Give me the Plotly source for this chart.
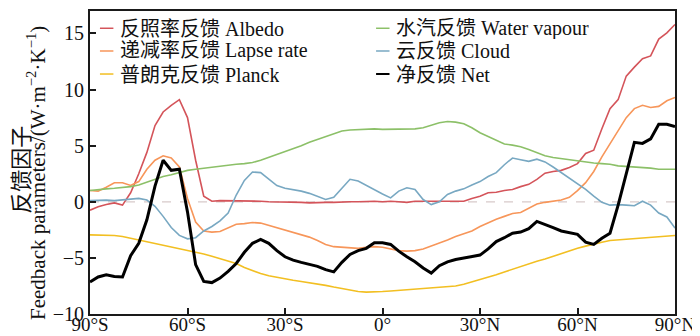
import plotly.graph_objects as go

latitudes = [-90, -87.5, -85, -82.5, -80, -77.5, -75, -72.5, -70, -67.5, -65, -62.5, -60, -57.5, -55, -52.5, -50, -47.5, -45,
             -42.5, -40, -37.5, -35, -32.5, -30, -27.5, -25, -22.5, -20, -17.5, -15, -12.5, -10, -7.5, -5, -2.5,
             0, 2.5, 5, 7.5, 10, 12.5, 15, 17.5, 20, 22.5, 25, 27.5, 30, 32.5, 35, 37.5, 40, 42.5, 45,
             47.5, 50, 52.5, 55, 57.5, 60, 62.5, 65, 67.5, 70, 72.5, 75, 77.5, 80, 82.5, 85, 87.5, 90]

albedo = [-0.75, -0.45, -0.25, -0.1, -0.3, 0.8, 2.5, 4.4, 6.8, 8.0, 8.6, 9.1, 7.5, 3.7, 0.5, 0.05, 0.1, 0.1, 0.05,
          0.05, 0.05, 0.05, 0.0, 0.0, 0.0, -0.05, -0.05, -0.1, -0.05, -0.05, -0.05, 0.0, 0.0, 0.0, 0.05, 0.05,
          0.0, 0.05, 0.0, -0.05, 0.05, 0.05, 0.0, 0.0, 0.0, 0.0, 0.05, 0.3, 0.5, 0.8, 0.85, 1.0, 1.1, 1.35, 1.55,
          2.0, 2.55, 2.7, 2.8, 3.05, 3.4, 4.3, 4.6, 6.5, 8.3, 9.1, 11.2, 12.0, 12.75, 13.0, 14.5, 15.05, 15.8]

lapse_rate = [1.0, 0.95, 1.3, 1.7, 1.7, 1.45, 1.8, 2.9, 3.7, 4.1, 3.9, 3.1, 0.3, -1.8, -2.6, -2.7, -2.65, -2.3, -2.0,
              -1.95, -1.85, -1.9, -2.1, -2.35, -2.55, -2.75, -2.95, -3.15, -3.45, -3.8, -4.0, -4.05, -4.1, -4.15, -4.05, -4.0,
              -4.05, -4.2, -4.35, -4.4, -4.35, -4.2, -3.95, -3.7, -3.4, -3.1, -2.85, -2.6, -2.2, -1.85, -1.55, -1.3, -1.05, -0.95, -0.55,
              -0.2, -0.05, 0.05, 0.15, 0.4, 1.0, 1.7, 2.7, 4.0, 5.2, 6.4, 7.5, 8.3, 8.6, 8.4, 8.5, 9.0, 9.3]

planck = [-2.95, -2.95, -2.95, -3.0, -3.1, -3.25, -3.4, -3.6, -3.75, -3.9, -4.05, -4.15, -4.3, -4.45, -4.65, -4.85, -5.05, -5.25, -5.5,
          -5.85, -6.15, -6.4, -6.6, -6.75, -6.9, -7.0, -7.1, -7.2, -7.3, -7.45, -7.6, -7.75, -7.9, -8.0, -8.05, -8.05,
          -8.0, -7.95, -7.9, -7.85, -7.8, -7.75, -7.7, -7.65, -7.6, -7.5, -7.35, -7.15, -6.95, -6.7, -6.5, -6.25, -6.0, -5.75, -5.5,
          -5.3, -5.1, -4.85, -4.6, -4.35, -4.15, -3.95, -3.75, -3.6, -3.45, -3.4, -3.35, -3.3, -3.25, -3.2, -3.15, -3.1, -3.0]

water_vapour = [1.0, 1.1, 1.15, 1.2, 1.25, 1.35, 1.5, 1.75, 2.05, 2.25, 2.4, 2.6, 2.8, 2.9, 3.0, 3.05, 3.15, 3.25, 3.35,
                3.4, 3.5, 3.7, 3.95, 4.2, 4.45, 4.75, 5.0, 5.3, 5.55, 5.85, 6.1, 6.3, 6.4, 6.45, 6.45, 6.5,
                6.45, 6.45, 6.45, 6.45, 6.5, 6.6, 6.85, 7.05, 7.15, 7.1, 6.95, 6.6, 6.15, 5.8, 5.45, 5.15, 5.05, 4.9, 4.65,
                4.35, 4.1, 3.95, 3.85, 3.75, 3.65, 3.5, 3.45, 3.4, 3.35, 3.2, 3.15, 3.15, 3.1, 3.0, 2.9, 2.9, 2.9]

cloud = [0.1, 0.15, 0.15, 0.1, 0.15, 0.2, 0.3, 0.15, -0.4, -1.3, -2.3, -3.0, -3.3, -3.2, -2.6, -2.2, -1.7, -1.0, 0.6,
         1.9, 2.65, 2.6, 2.0, 1.45, 1.2, 1.1, 0.95, 0.75, 0.5, 0.2, 0.4, 1.2, 2.0, 1.85, 1.45, 1.1,
         0.7, 0.35, 0.95, 1.25, 1.1, 0.2, -0.25, 0.0, 0.65, 0.95, 1.15, 1.5, 1.8, 2.25, 2.6, 3.3, 3.9, 3.75, 3.6,
         3.8, 3.55, 3.1, 2.6, 2.05, 1.55, 1.1, 0.5, -0.05, -0.3, -0.25, -0.3, -0.35, 0.05, -0.3, -1.0, -1.35, -2.35]

net = [-7.15, -6.7, -6.5, -6.65, -6.7, -4.8, -3.7, -1.6, 1.4, 3.7, 2.8, 2.9, -0.9, -5.6, -7.1, -7.2, -6.8, -6.2, -5.5,
       -4.5, -3.7, -3.35, -3.7, -4.35, -4.9, -5.2, -5.4, -5.55, -5.75, -6.05, -6.25, -5.4, -4.7, -4.35, -4.15, -3.65,
       -3.65, -3.8, -4.4, -4.9, -5.35, -5.9, -6.35, -5.7, -5.35, -5.15, -5.0, -4.9, -4.75, -4.2, -3.55, -3.2, -2.8, -2.7, -2.4,
       -1.75, -2.0, -2.3, -2.6, -2.75, -2.9, -3.6, -3.8, -3.25, -2.8, -0.3, 2.5, 5.3, 5.2, 5.6, 6.9, 6.9, 6.7]

x_tick_values = [-90, -60, -30, 0, 30, 60, 90]
x_tick_labels = ["90°S", "60°S", "30°S", "0°", "30°N", "60°N", "90°N"]
y_tick_values = [-10, -5, 0, 5, 10, 15]

series = [
    ("反照率反馈 Albedo", albedo, "#d4545a", 1.6),
    ("递减率反馈 Lapse rate", lapse_rate, "#f7965a", 1.6),
    ("普朗克反馈 Planck", planck, "#f2bf22", 1.6),
    ("水汽反馈 Water vapour", water_vapour, "#8cc068", 1.6),
    ("云反馈 Cloud", cloud, "#78a8c2", 1.6),
    ("净反馈 Net", net, "#000000", 3.0),
]

FONT = "Liberation Serif, Times New Roman, Noto Sans CJK SC, serif"

fig = go.Figure()
fig.add_hline(y=0, line=dict(color="#d8caca", width=1.2, dash="dash"), layer="below")
for name, vals, color, w in series:
    fig.add_trace(go.Scatter(x=latitudes, y=vals, mode="lines", name=name,
                             line=dict(color=color, width=w), showlegend=False))

# custom legend (two columns, short line keys)
legend_pos = [(0.017, 0.943), (0.017, 0.868), (0.017, 0.792),
              (0.489, 0.943), (0.489, 0.868), (0.489, 0.792)]
for (name, vals, color, w), (lx, ly) in zip(series, legend_pos):
    fig.add_shape(type="line", xref="paper", yref="paper", x0=lx, x1=lx + 0.023, y0=ly, y1=ly,
                  line=dict(color=color, width=1.5 if w < 2 else 2))
    fig.add_annotation(xref="paper", yref="paper", x=lx + 0.032, y=ly, text=name, showarrow=False,
                       xanchor="left", yanchor="middle", height=21, borderpad=0,
                       font=dict(family=FONT, size=20, color="#111111"))

# y-axis title: two rotated lines
fig.add_annotation(xref="paper", yref="paper", x=-0.1185, y=0.475, textangle=-90,
                   text="反馈因子", showarrow=False, xanchor="center", yanchor="middle",
                   font=dict(family=FONT, size=22, color="#111111"))
fig.add_annotation(xref="paper", yref="paper", x=-0.0925, y=0.465, textangle=-90,
                   text="Feedback parameters/(W·m<sup>−2</sup>·K<sup>−1</sup>)",
                   showarrow=False, xanchor="center", yanchor="middle",
                   font=dict(family=FONT, size=21, color="#111111"))

axis_common = dict(showline=True, linecolor="#1a1a1a", linewidth=2, mirror=True, showgrid=False,
                   zeroline=False, ticks="inside", ticklen=6, tickwidth=1.5, tickcolor="#1a1a1a")

fig.update_layout(
    width=700, height=336,
    margin=dict(l=82, r=33, t=1, b=30),
    paper_bgcolor="white", plot_bgcolor="white",
    font=dict(family=FONT, color="#111111"),
    xaxis=dict(range=[-90, 90], tickvals=x_tick_values, ticktext=x_tick_labels,
               tickfont=dict(family=FONT, size=19, color="#111111"), ticklabelstandoff=-8, **axis_common),
    yaxis=dict(range=[-10, 17], tickvals=y_tick_values,
               tickfont=dict(family=FONT, size=20, color="#111111"), **axis_common),
)

fig.write_html("out.html")
